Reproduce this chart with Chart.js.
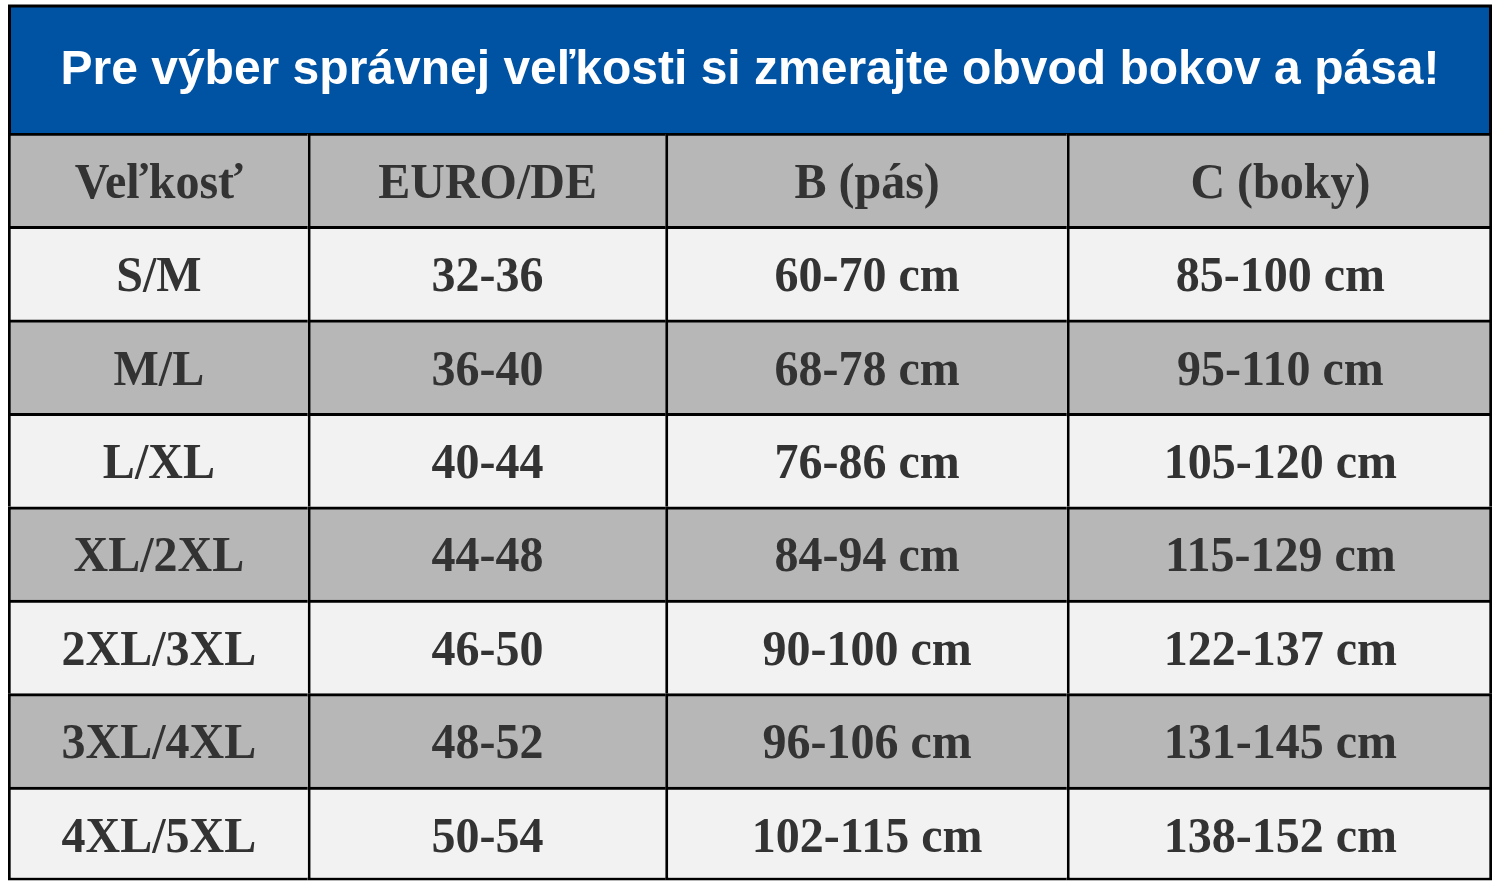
<!DOCTYPE html>
<html>
<head>
<meta charset="utf-8">
<script src="https://cdn.jsdelivr.net/npm/chart.js@4/dist/chart.umd.min.js"></script>
<style>
  html, body { margin: 0; padding: 0; background: #ffffff; }
  #wrap { width: 1500px; height: 891px; position: relative; }
</style>
</head>
<body>
<div id="wrap"><canvas id="chart-size-table"></canvas></div>
<script>
// table content
var title = "Pre výber správnej veľkosti si zmerajte obvod bokov a pása!";
var headers = ["Veľkosť", "EURO/DE", "B (pás)", "C (boky)"];
var sizes = ["S/M", "M/L", "L/XL", "XL/2XL", "2XL/3XL", "3XL/4XL", "4XL/5XL"];
var euroDe = ["32-36", "36-40", "40-44", "44-48", "46-50", "48-52", "50-54"];
var waist = ["60-70 cm", "68-78 cm", "76-86 cm", "84-94 cm", "90-100 cm", "96-106 cm", "102-115 cm"];
var hips = ["85-100 cm", "95-110 cm", "105-120 cm", "115-129 cm", "122-137 cm", "131-145 cm", "138-152 cm"];

// layout: where the columns split, in percent of the table width
var colEdges = [0, 20.2, 44.3, 71.35, 100];

var rowLabels = ["header"].concat(sizes);
var columns = [sizes, euroDe, waist, hips];

function cellText(row, col) {
  if (row == 0) return headers[col];
  return columns[col][row - 1];
}

var BLUE = "#0052a3";
var GRAY = "#b7b7b7";
var LIGHT = "#f2f2f2";
var INK = "#333333";
var LINE = 3;

// fill the title box blue with a black frame
var titleBand = {
  id: "titleBand",
  beforeDraw: function(chart) {
    var t = chart.titleBlock;
    var ctx = chart.ctx;
    ctx.save();
    ctx.fillStyle = "#000000";
    ctx.fillRect(t.left, t.top, t.width, t.height + 1);
    ctx.fillStyle = BLUE;
    ctx.fillRect(t.left + LINE, t.top + LINE, t.width - 2 * LINE, t.height - LINE);
    ctx.restore();
  }
};

// write the text in the middle of each cell
var cellLabels = {
  id: "cellLabels",
  afterDatasetsDraw: function(chart) {
    var ctx = chart.ctx;
    ctx.save();
    ctx.fillStyle = INK;
    ctx.textAlign = "center";
    ctx.textBaseline = "alphabetic";
    ctx.font = "bold 48px 'Liberation Serif', 'Times New Roman', serif";
    chart.data.datasets.forEach(function(ds, c) {
      var meta = chart.getDatasetMeta(c);
      meta.data.forEach(function(bar, r) {
        var p = bar.getCenterPoint();
        ctx.save();
        ctx.translate(p.x + 1, p.y + 18);
        ctx.scale(1, 1.05);
        ctx.fillText(cellText(r, c), 0, 0);
        ctx.restore();
      });
    });
    ctx.restore();
  }
};

// each cell draws its own left and top line; the last column and row close the frame
var datasets = columns.map(function(col, c) {
  return {
    label: headers[c],
    data: rowLabels.map(function() { return [colEdges[c], colEdges[c + 1]]; }),
    backgroundColor: function(context) {
      return context.dataIndex % 2 == 0 ? GRAY : LIGHT;
    },
    borderColor: "#000000",
    borderSkipped: false,
    borderWidth: function(context) {
      var r = context.dataIndex;
      return {
        left: LINE,
        right: c == columns.length - 1 ? LINE : 0,
        top: LINE,
        bottom: r == rowLabels.length - 1 ? LINE : 0
      };
    },
    barPercentage: 1,
    categoryPercentage: 1,
    grouped: false
  };
});

var chart;

function initChart() {
  var ctx = document.getElementById("chart-size-table").getContext("2d");
  chart = new Chart(ctx, {
    type: "bar",
    data: {
      labels: rowLabels,
      datasets: datasets
    },
    options: {
      indexAxis: "y",
      responsive: true,
      maintainAspectRatio: false,
      animation: false,
      layout: {
        padding: { left: 8, right: 8, top: 4.5, bottom: 10.5 }
      },
      scales: {
        x: { type: "linear", min: 0, max: 100, display: false },
        y: { type: "category", display: false, offset: true }
      },
      plugins: {
        legend: { display: false },
        tooltip: { enabled: false },
        title: {
          display: true,
          text: title,
          color: "#ffffff",
          font: { family: "'Liberation Sans', Arial, sans-serif", size: 48, weight: "bold", lineHeight: 1.2 },
          padding: { top: 37.7, bottom: 33.2 }
        }
      }
    },
    plugins: [titleBand, cellLabels]
  });
}

initChart();
</script>
</body>
</html>
